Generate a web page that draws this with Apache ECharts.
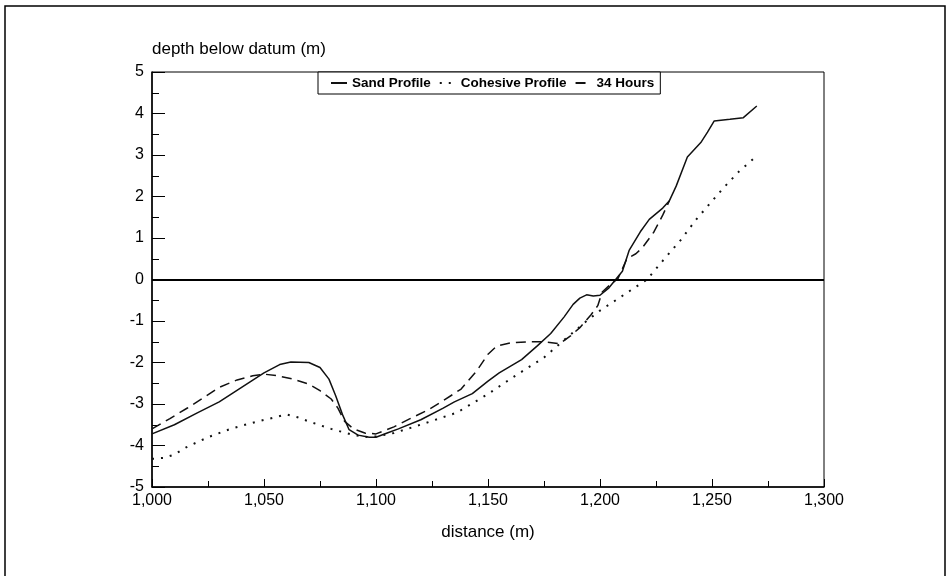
<!DOCTYPE html>
<html>
<head>
<meta charset="utf-8">
<script src="https://cdn.jsdelivr.net/npm/echarts@6/dist/echarts.min.js"></script>
<style>html,body{margin:0;padding:0;background:#fff;}#c{width:952px;height:576px;}</style>
</head>
<body>
<div id="c"></div>
<script>
// Sand Profile (solid)
var sandX = [1000,1010,1020,1030,1040,1050,1057,1062,1070,1075,1079,1082,1085,1088,1092,1097,1100,1105,1110,1120,1130,1135,1143,1150,1155,1165,1172,1178,1184,1188,1191,1194,1197,1200,1204,1207,1210,1213,1218,1222,1228,1231,1234,1239,1245,1248,1251,1258,1264,1270];
var sandY = [-3.72,-3.5,-3.22,-2.95,-2.6,-2.25,-2.05,-1.99,-2.0,-2.12,-2.4,-2.8,-3.25,-3.62,-3.75,-3.8,-3.8,-3.7,-3.6,-3.38,-3.1,-2.95,-2.75,-2.45,-2.25,-1.93,-1.6,-1.3,-0.9,-0.6,-0.45,-0.37,-0.4,-0.38,-0.2,0.0,0.2,0.7,1.15,1.45,1.72,1.9,2.25,2.95,3.3,3.55,3.82,3.86,3.9,4.18];
// Cohesive Profile (dotted)
var cohX = [1000,1005,1010,1015,1025,1035,1045,1055,1060,1065,1070,1080,1090,1097,1100,1108,1121,1136,1150,1161,1175,1182,1194,1200,1207,1214,1221,1228,1236,1243,1255,1262,1270];
var cohY = [-4.32,-4.3,-4.22,-4.05,-3.8,-3.6,-3.45,-3.32,-3.25,-3.32,-3.42,-3.6,-3.75,-3.8,-3.78,-3.7,-3.48,-3.21,-2.76,-2.36,-1.88,-1.55,-1.0,-0.75,-0.5,-0.25,0.0,0.45,0.95,1.45,2.2,2.6,2.98];
// 34 Hours (dashed)
var hrsX = [1000,1008,1016,1023,1030,1038,1045,1050,1056,1063,1070,1075,1080,1083,1086,1090,1095,1100,1108,1115,1123,1130,1138,1145,1150,1154,1160,1168,1175,1182,1187,1191,1196,1199,1201,1205,1208,1212,1216,1219,1224,1228,1231];
var hrsY = [-3.6,-3.35,-3.09,-2.85,-2.6,-2.42,-2.32,-2.28,-2.32,-2.4,-2.52,-2.68,-2.88,-3.1,-3.42,-3.6,-3.7,-3.72,-3.55,-3.36,-3.15,-2.92,-2.64,-2.2,-1.8,-1.6,-1.53,-1.5,-1.5,-1.55,-1.35,-1.16,-0.85,-0.63,-0.3,-0.1,0.02,0.5,0.62,0.77,1.14,1.55,1.9];

var seriesNames = ['Sand Profile', 'Cohesive Profile', '34 Hours'];
var xTitle = 'distance (m)';
var yTitle = 'depth below datum (m)';

function pairs(xs, ys) { return xs.map(function (x, i) { return [x, ys[i]]; }); }

var FONT = '"Liberation Sans", Arial, Helvetica, sans-serif';
var chart = echarts.init(document.getElementById('c'), null, {renderer: 'canvas'});
chart.setOption({
  animation: false,
  backgroundColor: '#fff',
  graphic: [{
    type: 'rect', z: -1,
    shape: {x: 5, y: 6, width: 940, height: 600},
    style: {fill: 'none', stroke: '#000', lineWidth: 1.5}
  }],
  grid: {left: 152, right: 128, top: 72, bottom: 89, show: true, borderColor: '#000', borderWidth: 1, backgroundColor: 'transparent'},
  legend: {
    left: 318, top: 72,
    padding: [4, 6, 4, 12],
    backgroundColor: '#fff', borderColor: '#000', borderWidth: 1,
    itemWidth: 16, itemHeight: 10, itemGap: 8,
    itemStyle: {color: 'transparent', borderWidth: 0, opacity: 0},
    textStyle: {fontFamily: FONT, fontWeight: 'bold', fontSize: 13.5, color: '#000'},
    data: seriesNames
  },
  xAxis: {
    type: 'value', min: 1000, max: 1300, interval: 50,
    name: xTitle, nameLocation: 'middle', nameGap: 37,
    nameTextStyle: {fontFamily: FONT, fontSize: 17, color: '#000'},
    axisLine: {show: true, onZero: false, lineStyle: {color: '#000', width: 1.5}},
    axisTick: {show: true, inside: true, length: 8, lineStyle: {color: '#000', width: 1}},
    minorTick: {show: true, splitNumber: 2, length: 6, lineStyle: {color: '#000', width: 1}},
    axisLabel: {fontFamily: FONT, fontSize: 16, color: '#000', margin: 6},
    splitLine: {show: false}
  },
  yAxis: {
    type: 'value', min: -5, max: 5, interval: 1,
    name: yTitle, nameLocation: 'end', nameGap: 14,
    nameTextStyle: {fontFamily: FONT, fontSize: 17, color: '#000', align: 'left'},
    axisLine: {show: true, onZero: false, lineStyle: {color: '#000', width: 1.5}},
    axisTick: {show: true, inside: true, length: 13, lineStyle: {color: '#000'}},
    minorTick: {show: true, splitNumber: 2, length: 7, lineStyle: {color: '#000'}},
    axisLabel: {fontFamily: FONT, fontSize: 16, color: '#000', margin: 8},
    splitLine: {show: false}
  },
  series: [
    {
      name: seriesNames[0], type: 'line', data: pairs(sandX, sandY),
      symbol: 'none', smooth: false,
      lineStyle: {color: '#111', width: 1.5, type: 'solid'}, itemStyle: {color: '#111'},
      markLine: {
        silent: true, symbol: 'none', label: {show: false},
        lineStyle: {color: '#000', width: 2, type: 'solid'},
        data: [{yAxis: 0}]
      }
    },
    {
      name: seriesNames[1], type: 'line', data: pairs(cohX, cohY),
      symbol: 'none', smooth: false,
      lineStyle: {color: '#111', width: 2, type: [2, 7]}, itemStyle: {color: '#111'}
    },
    {
      name: seriesNames[2], type: 'line', data: pairs(hrsX, hrsY),
      symbol: 'none', smooth: false,
      lineStyle: {color: '#111', width: 1.5, type: [10, 6]}, itemStyle: {color: '#111'}
    }
  ]
});
</script>
</body>
</html>
